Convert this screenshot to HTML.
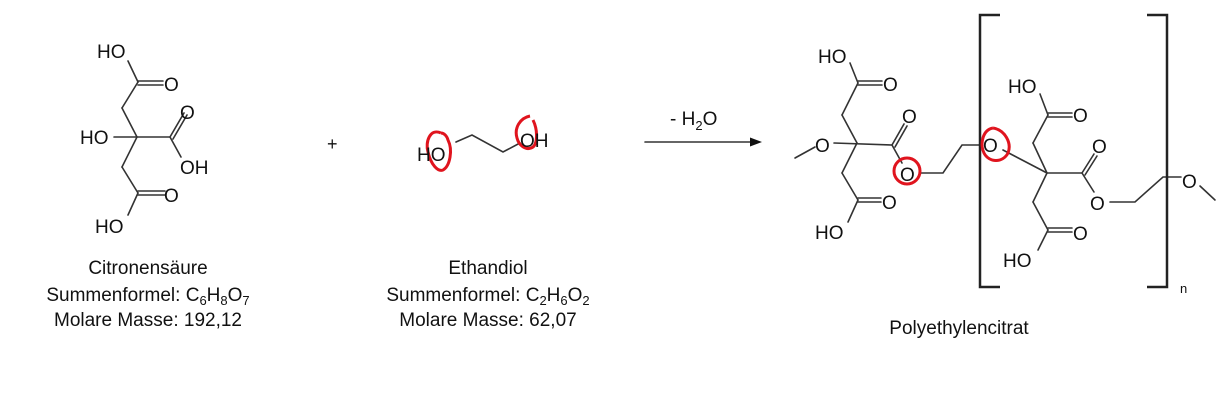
<!DOCTYPE html>
<html><head><meta charset="utf-8"><style>
html,body{margin:0;padding:0;background:#fff;}
svg{display:block;}
text{font-family:"Liberation Sans",Arial,sans-serif;fill:#111;}
.a{font-size:19px;}
.l{font-size:19px;}
</style></head><body>
<svg width="1232" height="404" viewBox="0 0 1232 404" xmlns="http://www.w3.org/2000/svg">
<g stroke="#333" stroke-width="1.6" fill="none" stroke-linecap="round">
<!-- citric acid -->
<line x1="128" y1="61" x2="138" y2="82"/>
<line x1="138" y1="81" x2="163" y2="81"/><line x1="138" y1="85" x2="163" y2="85"/>
<line x1="138" y1="82" x2="122" y2="108"/>
<line x1="122" y1="108" x2="137" y2="137"/>
<line x1="114" y1="137" x2="170" y2="137"/>
<line x1="170" y1="137" x2="184" y2="113"/><line x1="173" y1="139" x2="187" y2="115"/>
<line x1="170" y1="137" x2="181" y2="157"/>
<line x1="137" y1="137" x2="122" y2="167"/>
<line x1="122" y1="167" x2="138" y2="193"/>
<line x1="138" y1="191" x2="165" y2="191"/><line x1="138" y1="195" x2="165" y2="195"/>
<line x1="138" y1="193" x2="128" y2="215"/>
<!-- ethandiol -->
<polyline points="456,142 472,135 503,152 520,143"/>
<!-- arrow -->
<line x1="645" y1="142" x2="755" y2="142"/>
<!-- polymer left unit -->
<line x1="795" y1="158" x2="815" y2="147"/>
<line x1="834" y1="143" x2="892" y2="145"/>
<line x1="850" y1="63" x2="858" y2="83"/>
<line x1="858" y1="81" x2="882" y2="81"/><line x1="858" y1="85" x2="882" y2="85"/>
<line x1="858" y1="83" x2="842" y2="115"/>
<line x1="842" y1="115" x2="857" y2="143"/>
<line x1="892" y1="145" x2="904" y2="124"/><line x1="895" y1="147" x2="907" y2="126"/>
<line x1="892" y1="145" x2="902" y2="163"/>
<line x1="857" y1="143" x2="842" y2="173"/>
<line x1="842" y1="173" x2="858" y2="200"/>
<line x1="858" y1="198" x2="881" y2="198"/><line x1="858" y1="202" x2="881" y2="202"/>
<line x1="858" y1="200" x2="848" y2="222"/>
<polyline points="921,173 943,173 962,145 980,145"/>
<!-- polymer repeat unit -->
<line x1="1003" y1="150" x2="1047" y2="173"/>
<line x1="1047" y1="173" x2="1033" y2="143"/>
<line x1="1033" y1="143" x2="1048" y2="115"/>
<line x1="1048" y1="113" x2="1072" y2="113"/><line x1="1048" y1="117" x2="1072" y2="117"/>
<line x1="1048" y1="115" x2="1040" y2="94"/>
<line x1="1047" y1="173" x2="1082" y2="173"/>
<line x1="1082" y1="173" x2="1094" y2="154"/><line x1="1085" y1="175" x2="1097" y2="156"/>
<line x1="1082" y1="173" x2="1094" y2="192"/>
<polyline points="1110,202 1135,202 1163,177 1181,177"/>
<line x1="1200" y1="186" x2="1215" y2="200"/>
<line x1="1047" y1="173" x2="1033" y2="202"/>
<line x1="1033" y1="202" x2="1048" y2="230"/>
<line x1="1048" y1="228" x2="1072" y2="228"/><line x1="1048" y1="232" x2="1072" y2="232"/>
<line x1="1048" y1="230" x2="1038" y2="250"/>
</g>
<polygon points="762,142 750,137.5 750,146.5" fill="#111"/>
<g stroke="#222" stroke-width="2.5" fill="none">
<polyline points="1000,15 980,15 980,287 1000,287"/>
<polyline points="1147,15 1167,15 1167,287 1147,287"/>
</g>
<!-- red circles -->
<g stroke="#e0141e" stroke-width="3" fill="none">
<path d="M441,133 C430,128 425,142 428,152 C431,165 438,172 443,170 C450,166 453,150 448,140 C447,136 444,133 441,133"/>
<path d="M530,116 C520,118 514,128 517,138 C519,146 526,150 531,148 C538,146 538,130 533,120"/>
<ellipse cx="907" cy="171" rx="13" ry="13"/>
<path d="M993,128 C982,130 980,145 984,153 C989,163 1003,163 1008,153 C1012,143 1005,130 993,128"/>
</g>
<!-- atom labels -->
<g class="a">
<text x="97" y="58">HO</text>
<text x="164" y="91">O</text>
<text x="80" y="144">HO</text>
<text x="180" y="119">O</text>
<text x="180" y="174">OH</text>
<text x="164" y="202">O</text>
<text x="95" y="233">HO</text>
<text x="417" y="161">HO</text>
<text x="520" y="147">OH</text>
<text x="818" y="63">HO</text>
<text x="883" y="91">O</text>
<text x="815" y="152">O</text>
<text x="902" y="123">O</text>
<text x="900" y="181">O</text>
<text x="882" y="209">O</text>
<text x="815" y="239">HO</text>
<text x="983" y="152">O</text>
<text x="1008" y="93">HO</text>
<text x="1073" y="122">O</text>
<text x="1092" y="153">O</text>
<text x="1090" y="210">O</text>
<text x="1182" y="188">O</text>
<text x="1073" y="240">O</text>
<text x="1003" y="267">HO</text>
</g>
<text x="1180" y="293" font-size="13">n</text>
<text x="327" y="150" font-size="18">+</text>
<text x="670" y="125" font-size="19">- H<tspan font-size="13" dy="5">2</tspan><tspan dy="-5">O</tspan></text>
<!-- captions -->
<g class="l" text-anchor="middle">
<text x="148" y="274">Citronensäure</text>
<text x="148" y="301">Summenformel: C<tspan font-size="13" dy="4">6</tspan><tspan dy="-4">H</tspan><tspan font-size="13" dy="4">8</tspan><tspan dy="-4">O</tspan><tspan font-size="13" dy="4">7</tspan></text>
<text x="148" y="326">Molare Masse: 192,12</text>
<text x="488" y="274">Ethandiol</text>
<text x="488" y="301">Summenformel: C<tspan font-size="13" dy="4">2</tspan><tspan dy="-4">H</tspan><tspan font-size="13" dy="4">6</tspan><tspan dy="-4">O</tspan><tspan font-size="13" dy="4">2</tspan></text>
<text x="488" y="326">Molare Masse: 62,07</text>
<text x="959" y="334">Polyethylencitrat</text>
</g>
</svg>
</body></html>
